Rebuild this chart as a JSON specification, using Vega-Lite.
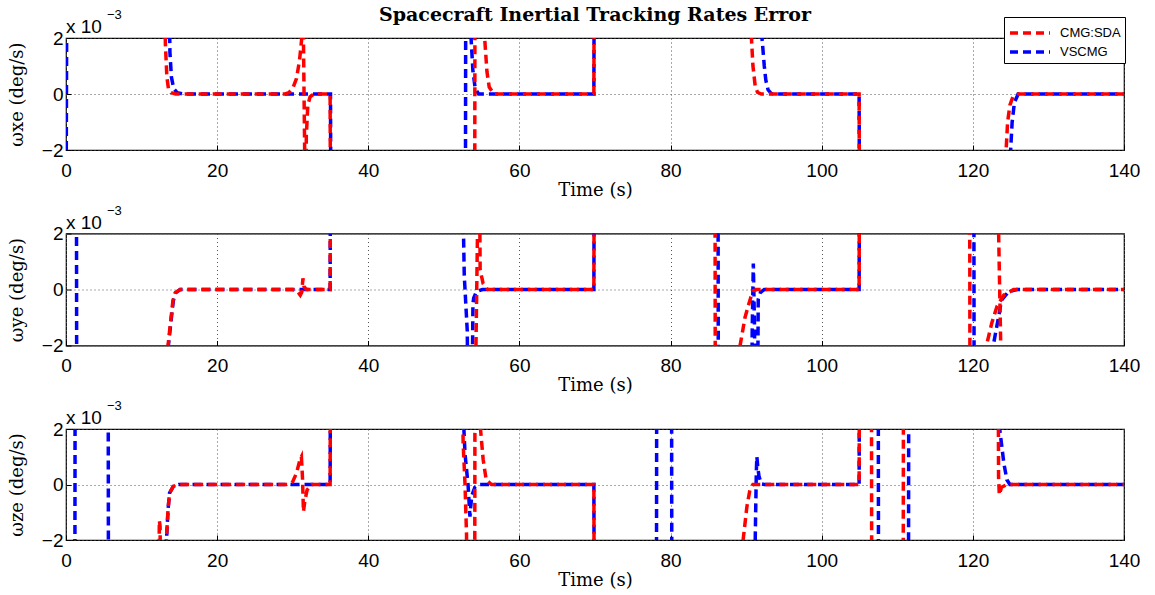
{
  "$schema": "https://vega.github.io/schema/vega-lite/v6.json",
  "autosize": {"type": "pad"},
  "padding": {"left": 7, "top": 5, "right": 14, "bottom": 3},
  "background": "white",
  "bounds": "flush",
  "spacing": 83.5,
  "config": {
    "view": {"stroke": "black", "strokeWidth": 1.2},
    "axis": {
      "domain": false,
      "tickColor": "black",
      "tickSize": -5,
      "labelFont": "Liberation Sans",
      "labelFontSize": 19,
      "labelColor": "black",
      "titleFont": "DejaVu Serif",
      "titleFontSize": 18,
      "titleFontWeight": "normal",
      "titleColor": "black",
      "gridColor": "#555555",
      "gridDash": [1, 3],
      "gridWidth": 1,
      "gridOpacity": 1,
      "labelOverlap": false
    },
    "axisX": {"labelFlush": false, "labelPadding": 16, "titlePadding": 1},
    "axisY": {"labelPadding": 8, "titlePadding": 15}
  },
  "datasets": {
    "px": [
      {"s":"VSCMG","g":1,"t":0,"v":-5},{"s":"VSCMG","g":1,"t":0.12,"v":5},{"s":"VSCMG","g":1,"t":13.6,"v":5},{"s":"VSCMG","g":1,"t":13.75,"v":1.5},{"s":"VSCMG","g":1,"t":13.95,"v":0.6},{"s":"VSCMG","g":1,"t":14.25,"v":0.2},{"s":"VSCMG","g":1,"t":14.7,"v":0.05},{"s":"VSCMG","g":1,"t":15.5,"v":0},{"s":"VSCMG","g":1,"t":35,"v":0},{"s":"VSCMG","g":1,"t":35.05,"v":-5},{"s":"VSCMG","g":1,"t":52.85,"v":-5},{"s":"VSCMG","g":1,"t":52.9,"v":5},{"s":"VSCMG","g":1,"t":53.5,"v":5},{"s":"VSCMG","g":1,"t":53.6,"v":2},{"s":"VSCMG","g":1,"t":53.85,"v":0.8},{"s":"VSCMG","g":1,"t":54.15,"v":0.2},{"s":"VSCMG","g":1,"t":54.6,"v":0},{"s":"VSCMG","g":1,"t":69.85,"v":0},{"s":"VSCMG","g":1,"t":69.9,"v":5},{"s":"VSCMG","g":1,"t":92,"v":5},{"s":"VSCMG","g":1,"t":92.1,"v":2},{"s":"VSCMG","g":1,"t":92.4,"v":1},{"s":"VSCMG","g":1,"t":92.6,"v":0.5},{"s":"VSCMG","g":1,"t":92.9,"v":0.15},{"s":"VSCMG","g":1,"t":93.3,"v":0.02},{"s":"VSCMG","g":1,"t":94,"v":0},{"s":"VSCMG","g":1,"t":104.95,"v":0},{"s":"VSCMG","g":1,"t":105,"v":-5},{"s":"VSCMG","g":1,"t":124.8,"v":-5},{"s":"VSCMG","g":1,"t":125,"v":-2},{"s":"VSCMG","g":1,"t":125.2,"v":-1},{"s":"VSCMG","g":1,"t":125.5,"v":-0.3},{"s":"VSCMG","g":1,"t":126,"v":0},{"s":"VSCMG","g":1,"t":140,"v":0},
      {"s":"CMG:SDA","g":1,"t":0,"v":5},{"s":"CMG:SDA","g":1,"t":13.05,"v":5},{"s":"CMG:SDA","g":1,"t":13.15,"v":1.8},{"s":"CMG:SDA","g":1,"t":13.35,"v":0.6},{"s":"CMG:SDA","g":1,"t":13.55,"v":0.2},{"s":"CMG:SDA","g":1,"t":13.9,"v":0.05},{"s":"CMG:SDA","g":1,"t":14.5,"v":0},{"s":"CMG:SDA","g":1,"t":29,"v":0},{"s":"CMG:SDA","g":1,"t":29.5,"v":0.05},{"s":"CMG:SDA","g":1,"t":30,"v":0.2},{"s":"CMG:SDA","g":1,"t":30.5,"v":0.55},{"s":"CMG:SDA","g":1,"t":30.9,"v":1.2},{"s":"CMG:SDA","g":1,"t":31.2,"v":2},{"s":"CMG:SDA","g":1,"t":31.3,"v":5},{"s":"CMG:SDA","g":1,"t":31.7,"v":-5},{"s":"CMG:SDA","g":1,"t":31.8,"v":-1.5},{"s":"CMG:SDA","g":1,"t":32,"v":-0.4},{"s":"CMG:SDA","g":1,"t":32.3,"v":-0.1},{"s":"CMG:SDA","g":1,"t":32.8,"v":0},{"s":"CMG:SDA","g":1,"t":34.95,"v":0},{"s":"CMG:SDA","g":1,"t":35,"v":-5},{"s":"CMG:SDA","g":1,"t":54.08,"v":-5},{"s":"CMG:SDA","g":1,"t":54.12,"v":5},{"s":"CMG:SDA","g":1,"t":55.3,"v":5},{"s":"CMG:SDA","g":1,"t":55.4,"v":2},{"s":"CMG:SDA","g":1,"t":55.7,"v":0.8},{"s":"CMG:SDA","g":1,"t":56,"v":0.25},{"s":"CMG:SDA","g":1,"t":56.6,"v":0},{"s":"CMG:SDA","g":1,"t":69.85,"v":0},{"s":"CMG:SDA","g":1,"t":69.9,"v":5},{"s":"CMG:SDA","g":1,"t":90.6,"v":5},{"s":"CMG:SDA","g":1,"t":90.7,"v":2},{"s":"CMG:SDA","g":1,"t":90.9,"v":1},{"s":"CMG:SDA","g":1,"t":91.2,"v":0.28},{"s":"CMG:SDA","g":1,"t":91.5,"v":0.06},{"s":"CMG:SDA","g":1,"t":92,"v":0},{"s":"CMG:SDA","g":1,"t":104.95,"v":0},{"s":"CMG:SDA","g":1,"t":105,"v":-5},{"s":"CMG:SDA","g":1,"t":124.2,"v":-5},{"s":"CMG:SDA","g":1,"t":124.4,"v":-2},{"s":"CMG:SDA","g":1,"t":124.6,"v":-1},{"s":"CMG:SDA","g":1,"t":124.9,"v":-0.4},{"s":"CMG:SDA","g":1,"t":125.3,"v":-0.1},{"s":"CMG:SDA","g":1,"t":126,"v":0},{"s":"CMG:SDA","g":1,"t":140,"v":0}
    ],
    "py": [
      {"s":"VSCMG","g":1,"t":0,"v":5},{"s":"VSCMG","g":1,"t":1.38,"v":5},{"s":"VSCMG","g":1,"t":1.42,"v":-5},{"s":"VSCMG","g":1,"t":13.5,"v":-5},{"s":"VSCMG","g":1,"t":13.55,"v":-2},{"s":"VSCMG","g":1,"t":13.95,"v":-1},{"s":"VSCMG","g":1,"t":14.2,"v":-0.4},{"s":"VSCMG","g":1,"t":14.5,"v":-0.12},{"s":"VSCMG","g":1,"t":15.1,"v":0},{"s":"VSCMG","g":1,"t":34.95,"v":0},{"s":"VSCMG","g":1,"t":35,"v":5},{"s":"VSCMG","g":1,"t":52.5,"v":5},{"s":"VSCMG","g":1,"t":52.6,"v":2},{"s":"VSCMG","g":1,"t":52.7,"v":0.5},{"s":"VSCMG","g":1,"t":52.9,"v":-0.5},{"s":"VSCMG","g":1,"t":53.1,"v":-1.5},{"s":"VSCMG","g":1,"t":53.2,"v":-5},{"s":"VSCMG","g":1,"t":53.7,"v":-5},{"s":"VSCMG","g":1,"t":53.85,"v":-0.5},{"s":"VSCMG","g":1,"t":53.95,"v":-0.3},{"s":"VSCMG","g":1,"t":54.3,"v":-0.08},{"s":"VSCMG","g":1,"t":55.1,"v":0},{"s":"VSCMG","g":1,"t":69.85,"v":0},{"s":"VSCMG","g":1,"t":69.9,"v":5},{"s":"VSCMG","g":1,"t":86.28,"v":5},{"s":"VSCMG","g":1,"t":86.32,"v":-5},{"s":"VSCMG","g":1,"t":90.7,"v":-5},{"s":"VSCMG","g":1,"t":90.8,"v":-1.5},{"s":"VSCMG","g":1,"t":90.95,"v":0.93},{"s":"VSCMG","g":1,"t":91.05,"v":-0.5},{"s":"VSCMG","g":1,"t":91.1,"v":-1.2},{"s":"VSCMG","g":1,"t":91.25,"v":-5},{"s":"VSCMG","g":1,"t":91.5,"v":-5},{"s":"VSCMG","g":1,"t":91.6,"v":-0.35},{"s":"VSCMG","g":1,"t":91.9,"v":-0.1},{"s":"VSCMG","g":1,"t":92.4,"v":0},{"s":"VSCMG","g":1,"t":104.95,"v":0},{"s":"VSCMG","g":1,"t":105,"v":5},{"s":"VSCMG","g":1,"t":120.13,"v":5},{"s":"VSCMG","g":1,"t":120.17,"v":-5},{"s":"VSCMG","g":1,"t":122.65,"v":-5},{"s":"VSCMG","g":1,"t":122.7,"v":-2},{"s":"VSCMG","g":1,"t":123.4,"v":-0.98},{"s":"VSCMG","g":1,"t":123.8,"v":-0.38},{"s":"VSCMG","g":1,"t":124.7,"v":-0.08},{"s":"VSCMG","g":1,"t":125.8,"v":0},{"s":"VSCMG","g":1,"t":140,"v":0},
      {"s":"CMG:SDA","g":1,"t":0,"v":-5},{"s":"CMG:SDA","g":1,"t":13.45,"v":-5},{"s":"CMG:SDA","g":1,"t":13.5,"v":-2},{"s":"CMG:SDA","g":1,"t":13.9,"v":-1},{"s":"CMG:SDA","g":1,"t":14.15,"v":-0.4},{"s":"CMG:SDA","g":1,"t":14.45,"v":-0.12},{"s":"CMG:SDA","g":1,"t":15.1,"v":0},{"s":"CMG:SDA","g":1,"t":30,"v":0},{"s":"CMG:SDA","g":1,"t":30.6,"v":-0.05},{"s":"CMG:SDA","g":1,"t":31,"v":-0.2},{"s":"CMG:SDA","g":1,"t":31.2,"v":-0.1},{"s":"CMG:SDA","g":1,"t":31.35,"v":0.4},{"s":"CMG:SDA","g":1,"t":31.5,"v":0.1},{"s":"CMG:SDA","g":1,"t":31.8,"v":0},{"s":"CMG:SDA","g":1,"t":34.95,"v":0},{"s":"CMG:SDA","g":1,"t":35,"v":5},{"s":"CMG:SDA","g":1,"t":54.6,"v":5},{"s":"CMG:SDA","g":1,"t":54.35,"v":0},{"s":"CMG:SDA","g":1,"t":54.1,"v":-5},
      {"s":"CMG:SDA","g":2,"t":54.7,"v":5},{"s":"CMG:SDA","g":2,"t":54.8,"v":0.7},{"s":"CMG:SDA","g":2,"t":55.2,"v":0.21},{"s":"CMG:SDA","g":2,"t":55.8,"v":0},{"s":"CMG:SDA","g":2,"t":69.85,"v":0},{"s":"CMG:SDA","g":2,"t":69.9,"v":5},{"s":"CMG:SDA","g":2,"t":85.88,"v":5},{"s":"CMG:SDA","g":2,"t":85.92,"v":-5},{"s":"CMG:SDA","g":2,"t":89.1,"v":-5},{"s":"CMG:SDA","g":2,"t":89.2,"v":-2},{"s":"CMG:SDA","g":2,"t":89.85,"v":-1},{"s":"CMG:SDA","g":2,"t":90.5,"v":-0.38},{"s":"CMG:SDA","g":2,"t":90.9,"v":-0.05},{"s":"CMG:SDA","g":2,"t":91.4,"v":0},{"s":"CMG:SDA","g":2,"t":104.95,"v":0},{"s":"CMG:SDA","g":2,"t":105,"v":5},{"s":"CMG:SDA","g":2,"t":119.58,"v":5},{"s":"CMG:SDA","g":2,"t":119.62,"v":-5},{"s":"CMG:SDA","g":2,"t":121.75,"v":-5},{"s":"CMG:SDA","g":2,"t":121.8,"v":-2},{"s":"CMG:SDA","g":2,"t":122.5,"v":-1.2},{"s":"CMG:SDA","g":2,"t":123.2,"v":-0.6},{"s":"CMG:SDA","g":2,"t":124.1,"v":-0.2},{"s":"CMG:SDA","g":2,"t":125.4,"v":0},{"s":"CMG:SDA","g":2,"t":140,"v":0},
      {"s":"CMG:SDA","g":3,"t":123.2,"v":5},{"s":"CMG:SDA","g":3,"t":123.9,"v":-5}
    ],
    "pz": [
      {"s":"VSCMG","g":1,"t":0,"v":-5},{"s":"VSCMG","g":1,"t":1.17,"v":-5},{"s":"VSCMG","g":1,"t":1.21,"v":5},{"s":"VSCMG","g":1,"t":5.58,"v":5},{"s":"VSCMG","g":1,"t":5.62,"v":-5},{"s":"VSCMG","g":1,"t":13.25,"v":-5},{"s":"VSCMG","g":1,"t":13.3,"v":-2},{"s":"VSCMG","g":1,"t":13.5,"v":-0.92},{"s":"VSCMG","g":1,"t":13.7,"v":-0.31},{"s":"VSCMG","g":1,"t":14.2,"v":-0.07},{"s":"VSCMG","g":1,"t":14.9,"v":0},{"s":"VSCMG","g":1,"t":34.95,"v":0},{"s":"VSCMG","g":1,"t":35,"v":5},{"s":"VSCMG","g":1,"t":52.5,"v":5},{"s":"VSCMG","g":1,"t":52.65,"v":2},{"s":"VSCMG","g":1,"t":52.8,"v":1.1},{"s":"VSCMG","g":1,"t":53.2,"v":0},{"s":"VSCMG","g":1,"t":53.45,"v":-1.16},{"s":"VSCMG","g":1,"t":53.55,"v":-0.8},{"s":"VSCMG","g":1,"t":53.7,"v":-0.4},{"s":"VSCMG","g":1,"t":54.1,"v":-0.1},{"s":"VSCMG","g":1,"t":54.6,"v":0},{"s":"VSCMG","g":1,"t":69.85,"v":0},{"s":"VSCMG","g":1,"t":69.9,"v":-5},{"s":"VSCMG","g":1,"t":78.13,"v":-5},{"s":"VSCMG","g":1,"t":78.17,"v":5},{"s":"VSCMG","g":1,"t":80.13,"v":5},{"s":"VSCMG","g":1,"t":80.17,"v":-5},{"s":"VSCMG","g":1,"t":91.1,"v":-5},{"s":"VSCMG","g":1,"t":91.2,"v":-2},{"s":"VSCMG","g":1,"t":91.35,"v":0.5},{"s":"VSCMG","g":1,"t":91.42,"v":1.0},{"s":"VSCMG","g":1,"t":91.55,"v":0.6},{"s":"VSCMG","g":1,"t":91.7,"v":0.3},{"s":"VSCMG","g":1,"t":92,"v":0.02},{"s":"VSCMG","g":1,"t":92.4,"v":0},{"s":"VSCMG","g":1,"t":104.95,"v":0},{"s":"VSCMG","g":1,"t":105,"v":5},{"s":"VSCMG","g":1,"t":107.48,"v":5},{"s":"VSCMG","g":1,"t":107.52,"v":-5},{"s":"VSCMG","g":1,"t":111.48,"v":-5},{"s":"VSCMG","g":1,"t":111.52,"v":5},{"s":"VSCMG","g":1,"t":123.45,"v":5},{"s":"VSCMG","g":1,"t":123.55,"v":2},{"s":"VSCMG","g":1,"t":124.1,"v":0.77},{"s":"VSCMG","g":1,"t":124.5,"v":0.17},{"s":"VSCMG","g":1,"t":124.9,"v":0},{"s":"VSCMG","g":1,"t":140,"v":0},
      {"s":"CMG:SDA","g":1,"t":0,"v":-5},{"s":"CMG:SDA","g":1,"t":12.25,"v":-5},{"s":"CMG:SDA","g":1,"t":12.35,"v":-1.3},{"s":"CMG:SDA","g":1,"t":12.45,"v":-1.5},{"s":"CMG:SDA","g":1,"t":12.55,"v":-5},{"s":"CMG:SDA","g":1,"t":13.2,"v":-5},{"s":"CMG:SDA","g":1,"t":13.28,"v":-2},{"s":"CMG:SDA","g":1,"t":13.5,"v":-0.92},{"s":"CMG:SDA","g":1,"t":13.7,"v":-0.31},{"s":"CMG:SDA","g":1,"t":14.2,"v":-0.07},{"s":"CMG:SDA","g":1,"t":14.9,"v":0},{"s":"CMG:SDA","g":1,"t":29.5,"v":0},{"s":"CMG:SDA","g":1,"t":30,"v":0.1},{"s":"CMG:SDA","g":1,"t":30.5,"v":0.41},{"s":"CMG:SDA","g":1,"t":30.95,"v":0.89},{"s":"CMG:SDA","g":1,"t":31.15,"v":1.0},{"s":"CMG:SDA","g":1,"t":31.3,"v":0.2},{"s":"CMG:SDA","g":1,"t":31.42,"v":-0.98},{"s":"CMG:SDA","g":1,"t":31.6,"v":-0.6},{"s":"CMG:SDA","g":1,"t":31.9,"v":-0.2},{"s":"CMG:SDA","g":1,"t":32.5,"v":0},{"s":"CMG:SDA","g":1,"t":34.95,"v":0},{"s":"CMG:SDA","g":1,"t":35,"v":5},{"s":"CMG:SDA","g":1,"t":52.45,"v":5},{"s":"CMG:SDA","g":1,"t":52.55,"v":1.5},{"s":"CMG:SDA","g":1,"t":52.8,"v":0},{"s":"CMG:SDA","g":1,"t":53,"v":-1.8},{"s":"CMG:SDA","g":1,"t":53.05,"v":-5},{"s":"CMG:SDA","g":1,"t":54.08,"v":-5},{"s":"CMG:SDA","g":1,"t":54.12,"v":5},{"s":"CMG:SDA","g":1,"t":54.75,"v":5},{"s":"CMG:SDA","g":1,"t":54.85,"v":2},{"s":"CMG:SDA","g":1,"t":55.2,"v":0.9},{"s":"CMG:SDA","g":1,"t":55.6,"v":0.17},{"s":"CMG:SDA","g":1,"t":56.3,"v":0},{"s":"CMG:SDA","g":1,"t":69.85,"v":0},{"s":"CMG:SDA","g":1,"t":69.9,"v":-5},{"s":"CMG:SDA","g":1,"t":89.5,"v":-5},{"s":"CMG:SDA","g":1,"t":89.6,"v":-2},{"s":"CMG:SDA","g":1,"t":90.1,"v":-0.8},{"s":"CMG:SDA","g":1,"t":90.5,"v":-0.19},{"s":"CMG:SDA","g":1,"t":90.9,"v":0},{"s":"CMG:SDA","g":1,"t":104.95,"v":0},{"s":"CMG:SDA","g":1,"t":105,"v":5},{"s":"CMG:SDA","g":1,"t":106.58,"v":5},{"s":"CMG:SDA","g":1,"t":106.62,"v":-5},{"s":"CMG:SDA","g":1,"t":110.78,"v":-5},{"s":"CMG:SDA","g":1,"t":110.82,"v":5},{"s":"CMG:SDA","g":1,"t":123.35,"v":5},{"s":"CMG:SDA","g":1,"t":123.4,"v":0.3},{"s":"CMG:SDA","g":1,"t":123.5,"v":-0.37},{"s":"CMG:SDA","g":1,"t":123.8,"v":-0.1},{"s":"CMG:SDA","g":1,"t":124.5,"v":0},{"s":"CMG:SDA","g":1,"t":140,"v":0}
    ]
  },
  "resolve": {"legend": {"color": "independent"}},
  "vconcat": [
    {
      "width": 1058, "height": 112,
      "title": {"text": "Spacecraft Inertial Tracking Rates Error", "font": "DejaVu Serif", "fontSize": 19, "fontWeight": "bold", "color": "black", "anchor": "middle", "frame": "group", "baseline": "bottom", "offset": -35},
      "layer": [
        {
          "data": {"name": "px"},
          "mark": {"type": "line", "strokeWidth": 3.5, "strokeDash": [9, 5], "strokeCap": "butt", "clip": true},
          "encoding": {
            "x": {"field": "t", "type": "quantitative", "scale": {"domain": [0, 140], "nice": false}, "axis": {"title": "Time (s)", "values": [0, 20, 40, 60, 80, 100, 120, 140]}},
            "y": {"field": "v", "type": "quantitative", "scale": {"domain": [-2, 2], "nice": false}, "axis": {"title": "ωxe (deg/s)", "values": [-2, -1, 0, 1, 2], "labelExpr": "abs(datum.value) == 1 ? '' : datum.label"}},
            "color": {"field": "s", "type": "nominal", "scale": {"domain": ["CMG:SDA", "VSCMG"], "range": ["#ff0000", "#0000ff"]},
              "legend": {"orient": "none", "legendX": 938, "legendY": -21, "title": null, "strokeColor": "black", "fillColor": "white", "padding": 4, "symbolType": "M-2,0H2", "symbolSize": 400, "symbolStrokeWidth": 3.5, "symbolDash": [8, 5], "labelFont": "Liberation Sans", "labelFontSize": 13, "labelColor": "black", "labelOffset": 18, "rowPadding": -4, "symbolOffset": 10}},
            "detail": {"field": "g"},
            "order": {"value": null}
          }
        },
        {"data": {"values": [{"txt": "x 10"}]}, "mark": {"type": "text", "align": "left", "baseline": "alphabetic", "font": "Liberation Sans", "fontSize": 19, "dy": -5}, "encoding": {"x": {"datum": 0}, "y": {"datum": 2}, "text": {"field": "txt"}}},
        {"data": {"values": [{"txt": "−3"}]}, "mark": {"type": "text", "align": "left", "baseline": "alphabetic", "font": "Liberation Sans", "fontSize": 13, "dx": 41, "dy": -19}, "encoding": {"x": {"datum": 0}, "y": {"datum": 2}, "text": {"field": "txt"}}}
      ]
    },
    {
      "width": 1058, "height": 112,
      "layer": [
        {
          "data": {"name": "py"},
          "mark": {"type": "line", "strokeWidth": 3.5, "strokeDash": [9, 5], "strokeCap": "butt", "clip": true},
          "encoding": {
            "x": {"field": "t", "type": "quantitative", "scale": {"domain": [0, 140], "nice": false}, "axis": {"title": "Time (s)", "values": [0, 20, 40, 60, 80, 100, 120, 140]}},
            "y": {"field": "v", "type": "quantitative", "scale": {"domain": [-2, 2], "nice": false}, "axis": {"title": "ωye (deg/s)", "values": [-2, -1, 0, 1, 2], "labelExpr": "abs(datum.value) == 1 ? '' : datum.label"}},
            "color": {"field": "s", "type": "nominal", "scale": {"domain": ["CMG:SDA", "VSCMG"], "range": ["#ff0000", "#0000ff"]}, "legend": null},
            "detail": {"field": "g"},
            "order": {"value": null}
          }
        },
        {"data": {"values": [{"txt": "x 10"}]}, "mark": {"type": "text", "align": "left", "baseline": "alphabetic", "font": "Liberation Sans", "fontSize": 19, "dy": -5}, "encoding": {"x": {"datum": 0}, "y": {"datum": 2}, "text": {"field": "txt"}}},
        {"data": {"values": [{"txt": "−3"}]}, "mark": {"type": "text", "align": "left", "baseline": "alphabetic", "font": "Liberation Sans", "fontSize": 13, "dx": 41, "dy": -19}, "encoding": {"x": {"datum": 0}, "y": {"datum": 2}, "text": {"field": "txt"}}}
      ]
    },
    {
      "width": 1058, "height": 111,
      "layer": [
        {
          "data": {"name": "pz"},
          "mark": {"type": "line", "strokeWidth": 3.5, "strokeDash": [9, 5], "strokeCap": "butt", "clip": true},
          "encoding": {
            "x": {"field": "t", "type": "quantitative", "scale": {"domain": [0, 140], "nice": false}, "axis": {"title": "Time (s)", "values": [0, 20, 40, 60, 80, 100, 120, 140]}},
            "y": {"field": "v", "type": "quantitative", "scale": {"domain": [-2, 2], "nice": false}, "axis": {"title": "ωze (deg/s)", "values": [-2, -1, 0, 1, 2], "labelExpr": "abs(datum.value) == 1 ? '' : datum.label"}},
            "color": {"field": "s", "type": "nominal", "scale": {"domain": ["CMG:SDA", "VSCMG"], "range": ["#ff0000", "#0000ff"]}, "legend": null},
            "detail": {"field": "g"},
            "order": {"value": null}
          }
        },
        {"data": {"values": [{"txt": "x 10"}]}, "mark": {"type": "text", "align": "left", "baseline": "alphabetic", "font": "Liberation Sans", "fontSize": 19, "dy": -5}, "encoding": {"x": {"datum": 0}, "y": {"datum": 2}, "text": {"field": "txt"}}},
        {"data": {"values": [{"txt": "−3"}]}, "mark": {"type": "text", "align": "left", "baseline": "alphabetic", "font": "Liberation Sans", "fontSize": 13, "dx": 41, "dy": -19}, "encoding": {"x": {"datum": 0}, "y": {"datum": 2}, "text": {"field": "txt"}}}
      ]
    }
  ]
}
